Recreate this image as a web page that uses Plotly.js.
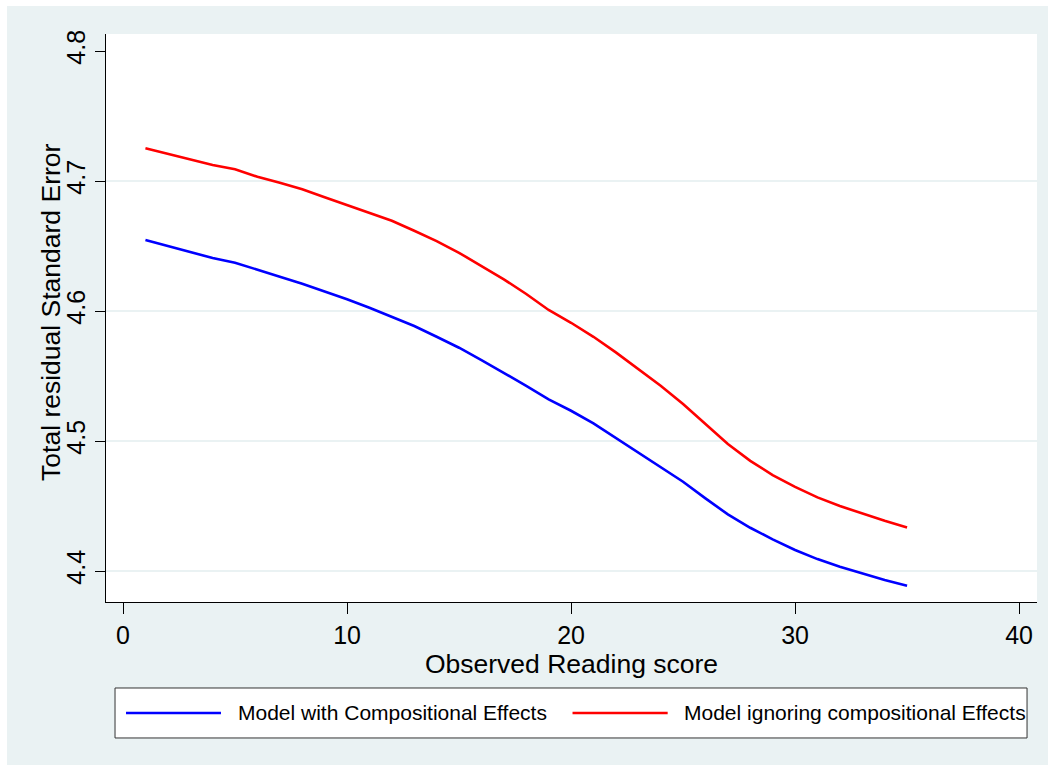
<!DOCTYPE html>
<html>
<head>
<meta charset="utf-8">
<script src="https://cdn.plot.ly/plotly-3.0.1.min.js"></script>
<style>
  html, body { margin: 0; padding: 0; background: #ffffff; }
  #chart { position: absolute; left: 7px; top: 6px; width: 1041px; height: 759px; }
</style>
</head>
<body>
<div id="chart"></div>
<script>
// Data
const scores = [1, 3, 4, 5, 6, 7, 8, 9, 10, 11, 12, 13, 14, 15, 16, 17, 18, 19, 20, 21, 22, 23, 24, 25, 26, 27, 28, 29, 30, 31, 32, 33, 34, 35];
const withCompositional = [4.6546, 4.6452, 4.6408, 4.6372, 4.6321, 4.6264, 4.6210, 4.6152, 4.6090, 4.6025, 4.5956, 4.5885, 4.5802, 4.5718, 4.5623, 4.5525, 4.5425, 4.5321, 4.5233, 4.5136, 4.5025, 4.4915, 4.4802, 4.4687, 4.4559, 4.4436, 4.4333, 4.4244, 4.4162, 4.4092, 4.4033, 4.3982, 4.3931, 4.3887];
const ignoringCompositional = [4.7252, 4.7167, 4.7123, 4.7090, 4.7033, 4.6987, 4.6936, 4.6875, 4.6815, 4.6752, 4.6695, 4.6618, 4.6538, 4.6448, 4.6348, 4.6244, 4.6131, 4.6008, 4.5910, 4.5802, 4.5682, 4.5554, 4.5425, 4.5285, 4.5128, 4.4977, 4.4848, 4.4738, 4.4648, 4.4567, 4.4500, 4.4441, 4.4387, 4.4336];
const seriesNames = ["Model with Compositional Effects", "Model ignoring compositional Effects"];
const xTicks = [0, 10, 20, 30, 40];
const yTicks = [4.4, 4.5, 4.6, 4.7, 4.8];
const gridValues = [4.4, 4.5, 4.6, 4.7];
const xTitle = "Observed Reading score";
const yTitle = "Total residual Standard Error";

const FONT = "Arial, 'Liberation Sans', Helvetica, sans-serif";
const BG = "#eaf2f3";

const traces = [
  { x: scores, y: withCompositional, name: seriesNames[0], type: "scatter", mode: "lines",
    line: { color: "#0000ff", width: 2.6 }, showlegend: false },
  { x: scores, y: ignoringCompositional, name: seriesNames[1], type: "scatter", mode: "lines",
    line: { color: "#ff0000", width: 2.6 }, showlegend: false }
];

const shapes = gridValues.map(v => ({
  type: "line", xref: "paper", yref: "y", x0: 0, x1: 1, y0: v, y1: v,
  line: { color: BG, width: 2 }, layer: "below"
}));

// Legend box (Stata style), drawn below the plot area
shapes.push({ type: "rect", xref: "paper", yref: "paper", x0: 0.0097, x1: 0.9893, y0: -0.1514, y1: -0.2394,
  line: { color: "#333333", width: 1 }, fillcolor: "#ffffff", layer: "above" });
shapes.push({ type: "line", xref: "paper", yref: "paper", x0: 0.0215, x1: 0.1235, y0: -0.1954, y1: -0.1954,
  line: { color: "#0000ff", width: 2.6 } });
shapes.push({ type: "line", xref: "paper", yref: "paper", x0: 0.5011, x1: 0.6033, y0: -0.1954, y1: -0.1954,
  line: { color: "#ff0000", width: 2.6 } });

const annotations = [
  { xref: "paper", yref: "paper", x: 0.1396, y: -0.1954, xanchor: "left", yanchor: "middle",
    text: seriesNames[0], showarrow: false, font: { family: FONT, size: 21, color: "#000" } },
  { xref: "paper", yref: "paper", x: 0.6184, y: -0.1954, xanchor: "left", yanchor: "middle",
    text: seriesNames[1], showarrow: false, font: { family: FONT, size: 21, color: "#000" } },
  { xref: "paper", yref: "paper", x: -0.0591, y: 0.5106, xanchor: "center", yanchor: "middle",
    textangle: -90, text: yTitle, showarrow: false, font: { family: FONT, size: 26.5, color: "#000" } }
];

const layout = {
  width: 1041, height: 759,
  paper_bgcolor: BG, plot_bgcolor: "#ffffff",
  margin: { l: 99, r: 11, t: 28, b: 163 },
  font: { family: FONT, color: "#000" },
  showlegend: false,
  xaxis: {
    range: [-0.76, 40.8], tickvals: xTicks, ticktext: xTicks.map(String),
    showgrid: false, zeroline: false, showline: true, linecolor: "#000", linewidth: 1,
    ticks: "outside", ticklen: 11, tickcolor: "#000", tickwidth: 1,
    tickfont: { family: FONT, size: 25, color: "#000" },
    title: { text: xTitle, font: { family: FONT, size: 26.5, color: "#000" }, standoff: 2 }
  },
  yaxis: {
    range: [4.3762, 4.8131], tickvals: yTicks, ticktext: yTicks.map(v => v.toFixed(1)),
    showgrid: false, zeroline: false, showline: true, linecolor: "#000", linewidth: 1,
    ticks: "outside", ticklen: 10, tickcolor: "#000", tickwidth: 1, tickangle: -90,
    tickfont: { family: FONT, size: 25, color: "#000" }
  },
  shapes: shapes,
  annotations: annotations
};

Plotly.newPlot("chart", traces, layout, { displayModeBar: false, staticPlot: true });
</script>
</body>
</html>
